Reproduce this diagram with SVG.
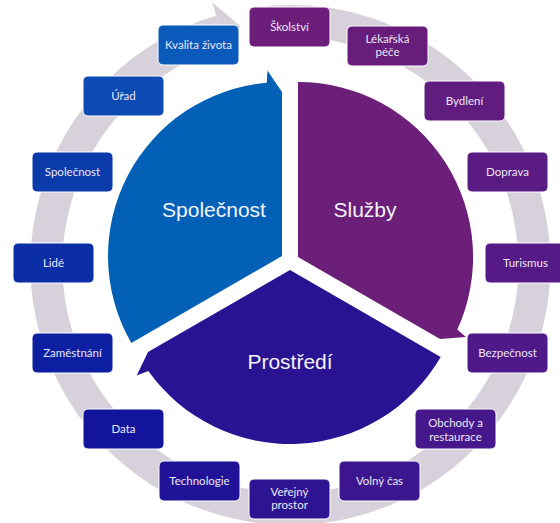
<svg xmlns="http://www.w3.org/2000/svg" width="560" height="523" viewBox="0 0 560 523">
<style>
.box{stroke:#ffffff;stroke-width:1}
.bt{font-family:Lato,"Liberation Sans",sans-serif;font-size:11.5px;fill:#ebe7f3;text-anchor:middle}
.big{font-family:"Liberation Sans",Arial,sans-serif;font-size:21px;fill:#f4f4f8;text-anchor:middle}
</style>
<rect width="560" height="523" fill="#ffffff"/>
<g id="connectors">
<path d="M251.8,24 A244,244 0 1 1 220.7,31.1" fill="none" stroke="#d6d1da" stroke-width="32"/>
<path d="M212.2,2.3 L240.1,26.1 L229.2,59.8 Z" fill="#d6d1da"/>
</g>
<g id="seg-spolecnost">
<path d="M282,256 L131.3,343 A174,174 0 0 1 266.8,82.7 L267.4,70.6 L282,92 Z" fill="#0260b7"/>
<text class="big" x="214" y="217">Společnost</text>
</g>
<g id="seg-sluzby">
<path d="M298,257 L298,82 A175,175 0 0 1 457.3,329.6 L465.9,337.1 L440,339 Z" fill="#6b1f78"/>
<text class="big" x="365" y="217">Služby</text>
</g>
<g id="seg-prostredi">
<path d="M290,270 L440.7,357 A174,174 0 0 1 148.3,371 L136.7,375.4 L148,352 Z" fill="#2a1392"/>
<text class="big" x="290" y="369">Prostředí</text>
</g>
<g id="n-skolstvi"><rect class="box" x="249" y="7" width="81" height="40" rx="5" fill="#6c1e7b"/><text class="bt" x="289.5" y="31">Školství</text></g>
<g id="n-lekarska"><rect class="box" x="347" y="26" width="81" height="40" rx="5" fill="#671d7c"/><text class="bt" x="387.5" y="42.5">Lékařská</text><text class="bt" x="387.5" y="56">péče</text></g>
<g id="n-bydleni"><rect class="box" x="424" y="81" width="81" height="40" rx="5" fill="#611c80"/><text class="bt" x="464.5" y="105">Bydlení</text></g>
<g id="n-doprava"><rect class="box" x="467" y="152" width="81" height="40" rx="5" fill="#5a1b83"/><text class="bt" x="507.5" y="176">Doprava</text></g>
<g id="n-turismus"><rect class="box" x="485" y="243" width="81" height="40" rx="5" fill="#551a86"/><text class="bt" x="525.5" y="267">Turismus</text></g>
<g id="n-bezpecnost"><rect class="box" x="467" y="333" width="81" height="40" rx="5" fill="#4f1989"/><text class="bt" x="507.5" y="357">Bezpečnost</text></g>
<g id="n-obchody"><rect class="box" x="415" y="409" width="81" height="40" rx="5" fill="#46188c"/><text class="bt" x="455.5" y="426.5">Obchody a</text><text class="bt" x="455.5" y="440.5">restaurace</text></g>
<g id="n-volny"><rect class="box" x="339" y="461" width="81" height="40" rx="5" fill="#3b168f"/><text class="bt" x="379.5" y="485">Volný čas</text></g>
<g id="n-verejny"><rect class="box" x="249" y="479" width="81" height="40" rx="5" fill="#2d1493"/><text class="bt" x="289.5" y="495.5">Veřejný</text><text class="bt" x="289.5" y="508.5">prostor</text></g>
<g id="n-technologie"><rect class="box" x="159" y="461" width="81" height="40" rx="5" fill="#201397"/><text class="bt" x="199.5" y="485">Technologie</text></g>
<g id="n-data"><rect class="box" x="83" y="409" width="81" height="40" rx="5" fill="#12159c"/><text class="bt" x="123.5" y="433">Data</text></g>
<g id="n-zamestnani"><rect class="box" x="32" y="333" width="81" height="40" rx="5" fill="#0c20a1"/><text class="bt" x="72.5" y="357">Zaměstnání</text></g>
<g id="n-lide"><rect class="box" x="13" y="243" width="81" height="40" rx="5" fill="#0b2da6"/><text class="bt" x="53.5" y="267">Lidé</text></g>
<g id="n-spolecnost"><rect class="box" x="32" y="152" width="81" height="40" rx="5" fill="#0b3aab"/><text class="bt" x="72.5" y="176">Společnost</text></g>
<g id="n-urad"><rect class="box" x="83" y="76" width="81" height="40" rx="5" fill="#0b4bb3"/><text class="bt" x="123.5" y="100">Úřad</text></g>
<g id="n-kvalita"><rect class="box" x="158" y="25" width="81" height="40" rx="5" fill="#0a5abb"/><text class="bt" x="198.5" y="49">Kvalita života</text></g>
</svg>
